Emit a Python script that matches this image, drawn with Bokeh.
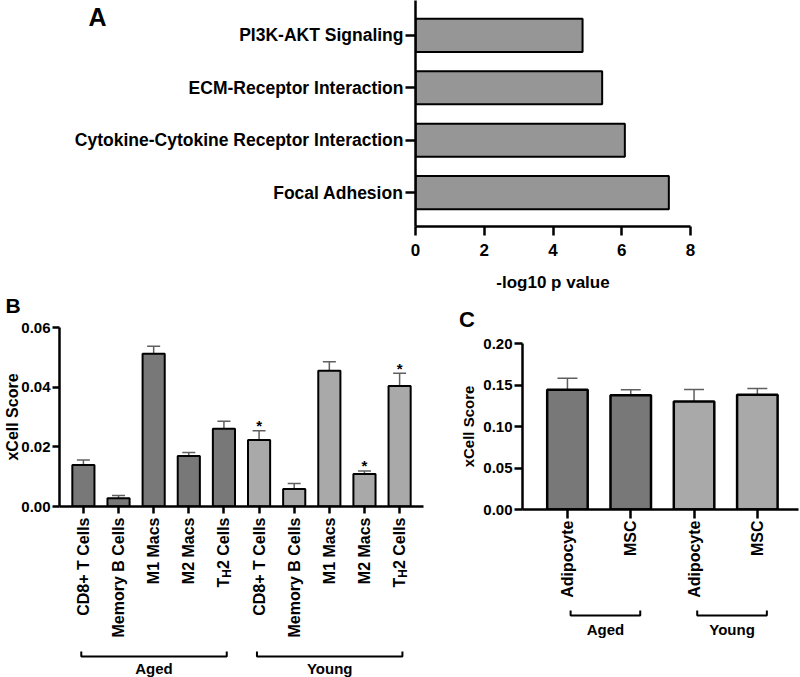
import math
from bokeh.plotting import figure
from bokeh.models import (Range1d, FixedTicker, Whisker, TeeHead, ColumnDataSource,
                          NumeralTickFormatter)
from bokeh.layouts import column, row
from bokeh.embed import file_html
from bokeh.resources import INLINE
from bokeh.core.properties import value

FONT = "Liberation Sans"

# ---------------- data ----------------
# Panel A (bottom to top)
pathways = ["Focal Adhesion", "Cytokine-Cytokine Receptor Interaction",
            "ECM-Receptor Interaction", "PI3K-AKT Signaling"]
neg_log10_p = [7.37, 6.09, 5.43, 4.86]
a_ticks = [0, 2, 4, 6, 8]

# Panel B
b_cells = ["CD8+ T Cells", "Memory B Cells", "M1 Macs", "M2 Macs", "T_H2 Cells"]
b_groups = ["Aged", "Young"]
b_aged = [0.0139, 0.0028, 0.0512, 0.0169, 0.0261]
b_aged_sem = [0.0017, 0.0009, 0.0025, 0.0012, 0.0025]
b_young = [0.0223, 0.0059, 0.0455, 0.0109, 0.0404]
b_young_sem = [0.0031, 0.0018, 0.0030, 0.0010, 0.0043]
b_young_sig = [True, False, False, True, True]
b_yticks = [0.00, 0.02, 0.04, 0.06]

# Panel C
c_cells = ["Adipocyte", "MSC"]
c_groups = ["Aged", "Young"]
c_aged = [0.1442, 0.1377]
c_aged_sem = [0.0140, 0.0065]
c_young = [0.1301, 0.1382]
c_young_sem = [0.0145, 0.0076]
c_yticks = [0.00, 0.05, 0.10, 0.15, 0.20]

GROUP_COLORS = {"Aged": "#787878", "Young": "#a9a9a9"}
ERR_COLOR = "#5f5f5f"

# approximate bold Helvetica/Arial advance widths (em)
CW = {' ': .278, '2': .556, 'C': .722, 'e': .556, 'l': .278, 's': .556, 'H': .722, 'T': .611}


def text_w(s, fs):
    return sum(CW.get(c, .6) for c in s) * fs


def style(p, tick_fs, label_fs):
    p.xgrid.grid_line_color = None
    p.ygrid.grid_line_color = None
    p.outline_line_color = None
    for ax in p.axis:
        ax.axis_line_color = "black"
        ax.axis_line_width = 2.5
        ax.major_tick_line_color = "black"
        ax.major_tick_line_width = 2.5
        ax.major_tick_in = 0
        ax.minor_tick_line_color = None
        ax.major_label_text_font = FONT
        ax.major_label_text_font_style = "bold"
        ax.major_label_text_font_size = tick_fs
        ax.major_label_text_color = "black"
        ax.axis_label_text_font = FONT
        ax.axis_label_text_font_style = "bold"
        ax.axis_label_text_font_size = label_fs
        ax.axis_label_text_color = "black"


def panel_letter(p, text, frame, cx, cy, size):
    """frame = (x0, x1, y0, y1, left_px, right_px, top_px, bottom_px) in canvas px."""
    x0, x1, y0, y1, L, R, T, B = frame
    x = x0 + (cx - L) / (R - L) * (x1 - x0)
    y = y0 + (B - cy) / (B - T) * (y1 - y0)
    p.text(x=[x], y=[y], text=[text], text_align="center", text_baseline="middle",
           text_font=value(FONT), text_font_style="bold", text_font_size=size,
           text_color="black", level="overlay")


# ---------------- Panel A ----------------
A_W, A_H = 800, 294
A_L, A_R, A_T, A_B = 415, 110, 0, 67
a_idx = list(range(len(pathways)))
pa = figure(width=A_W, height=A_H, x_range=Range1d(0, 8), y_range=Range1d(-0.646, 3.665),
            output_backend="svg", toolbar_location=None,
            min_border_left=A_L, min_border_right=A_R, min_border_top=A_T,
            min_border_bottom=A_B)
pa.hbar(y=a_idx, left=0, right=neg_log10_p, height=0.63, fill_color="#969696",
        line_color="black", line_width=2)
style(pa, "17px", "17px")
pa.yaxis.major_label_text_font_size = "17.5px"
pa.xaxis.ticker = FixedTicker(ticks=a_ticks)
pa.xaxis.major_tick_out = 9
pa.xaxis.major_label_standoff = 8
pa.xaxis.axis_label = "-log10 p value"
pa.xaxis.axis_label_standoff = 14
pa.yaxis.ticker = FixedTicker(ticks=a_idx)
pa.yaxis.major_label_overrides = {i: n for i, n in zip(a_idx, pathways)}
pa.yaxis.major_tick_out = 10
pa.yaxis.major_label_standoff = 2
panel_letter(pa, "A", (0, 8, -0.646, 3.665, A_L, A_W - A_R, A_T, A_H - A_B), 97, 17, "25px")


# ---------------- helper for grouped bar panels ----------------
def grouped_panel(p, cells, groups, vals_by_group, sem_by_group, bar_w, bar_lw, cap,
                  frame_h, yspan, label_fs, tick_out, standoff,
                  br_off, br_tick, grp_off, br_pad):
    n = len(cells)
    idx, vals, sems, cols, labels = [], [], [], [], []
    for g, (gname, gv, gs) in enumerate(zip(groups, vals_by_group, sem_by_group)):
        for k in range(n):
            idx.append(g * n + k)
            vals.append(gv[k])
            sems.append(gs[k])
            cols.append(GROUP_COLORS[gname])
            labels.append(cells[k])
    src = ColumnDataSource(dict(x=idx, top=vals, upper=[v + s for v, s in zip(vals, sems)],
                                color=cols))
    p.add_layout(Whisker(source=src, base="x", upper="upper", lower="top",
                         dimension="height", line_color=ERR_COLOR, line_width=1.5,
                         lower_head=None,
                         upper_head=TeeHead(size=cap, line_color=ERR_COLOR, line_width=1.5)))
    p.vbar(x="x", top="top", bottom=0, width=bar_w, fill_color="color",
           line_color="black", line_width=bar_lw, source=src)
    p.xaxis.ticker = FixedTicker(ticks=idx)
    p.xaxis.major_label_overrides = {i: "" for i in idx}
    p.xaxis.major_tick_out = tick_out
    # category labels, rotated, reading bottom to top (T_H2 -> subscript H)
    fs = float(label_fs.replace("px", ""))
    sfs = round(fs * 0.72)
    y0 = tick_out + standoff
    common = dict(angle=math.pi / 2, text_align="right", text_baseline="middle",
                  text_font=value(FONT), text_font_style="bold", text_color="black",
                  level="overlay")
    for i, lab in zip(idx, labels):
        if "_" in lab:
            base, tail = lab.split("_", 1)
            sub, rest = tail[0], tail[1:]
            p.text(x=[i], y=[0], text=[rest], y_offset=y0, text_font_size=label_fs, **common)
            p.text(x=[i], y=[0], text=[sub], y_offset=y0 + text_w(rest, fs), x_offset=3,
                   text_font_size=f"{sfs}px", **common)
            p.text(x=[i], y=[0], text=[base],
                   y_offset=y0 + text_w(rest, fs) + text_w(sub, sfs),
                   text_font_size=label_fs, **common)
        else:
            p.text(x=[i], y=[0], text=[lab], y_offset=y0, text_font_size=label_fs, **common)
    # group brackets + group names
    per_px = yspan / frame_h
    for g, gname in enumerate(groups):
        x0 = g * n - br_pad[0]
        x1 = (g + 1) * n - 1 + br_pad[1]
        yb = -br_off * per_px
        yt = -(br_off - br_tick) * per_px
        p.multi_line(xs=[[x0, x0, x1, x1]], ys=[[yt, yb, yb, yt]], line_color="black",
                     line_width=2, level="overlay")
        p.text(x=[(x0 + x1) / 2], y=[0], text=[gname], y_offset=grp_off,
               text_align="center", text_baseline="middle", text_font=value(FONT),
               text_font_style="bold", text_font_size="15px", text_color="black",
               level="overlay")
    return idx


# ---------------- Panel B ----------------
B_W, B_H = 456, 383
B_L, B_R, B_T, B_B = 59, 33, 33, 171
b_xr = (-0.68, 9.68)
pb = figure(width=B_W, height=B_H, x_range=Range1d(*b_xr), y_range=Range1d(0, 0.06),
            output_backend="svg", toolbar_location=None, frame_align=False,
            min_border_left=B_L, min_border_right=B_R, min_border_top=B_T,
            min_border_bottom=B_B)
style(pb, "15px", "16px")
b_idx = grouped_panel(pb, b_cells, b_groups, [b_aged, b_young], [b_aged_sem, b_young_sem],
                      bar_w=0.63, bar_lw=2, cap=13, frame_h=B_H - B_T - B_B, yspan=0.06,
                      label_fs="16px", tick_out=7, standoff=4,
                      br_off=150, br_tick=5, grp_off=162, br_pad=(0.06, 0.08))
pb.yaxis.ticker = FixedTicker(ticks=b_yticks)
pb.yaxis.formatter = NumeralTickFormatter(format="0.00")
pb.yaxis.axis_label = "xCell Score"
pb.yaxis.major_tick_out = 7
pb.yaxis.major_label_standoff = 2
pb.yaxis.axis_label_standoff = -3
# significance stars (young vs aged)
n_b = len(b_cells)
sx = [b_idx[n_b + k] for k, s in enumerate(b_young_sig) if s]
sy = [b_young[k] + b_young_sem[k] for k, s in enumerate(b_young_sig) if s]
pb.text(x=sx, y=sy, text=["*"] * len(sx), y_offset=-5, text_align="center",
        text_baseline="middle", text_font=value(FONT), text_font_style="bold",
        text_font_size="15px", text_color="black")
panel_letter(pb, "B", (b_xr[0], b_xr[1], 0, 0.06, B_L, B_W - B_R, B_T, B_H - B_B),
             12.5, 305 - 294, "21px")

# ---------------- Panel C ----------------
C_W, C_H = 344, 383
C_L, C_R, C_T, C_B = 66, 2, 49, 168
c_xr = (-0.71, 3.65)
pc = figure(width=C_W, height=C_H, x_range=Range1d(*c_xr), y_range=Range1d(0, 0.2),
            output_backend="svg", toolbar_location=None, frame_align=False,
            min_border_left=C_L, min_border_right=C_R, min_border_top=C_T,
            min_border_bottom=C_B)
style(pc, "15px", "15px")
grouped_panel(pc, c_cells, c_groups, [c_aged, c_young], [c_aged_sem, c_young_sem],
              bar_w=0.64, bar_lw=2.5, cap=20, frame_h=C_H - C_T - C_B, yspan=0.2,
              label_fs="16px", tick_out=9, standoff=2,
              br_off=106, br_tick=5, grp_off=120, br_pad=(-0.05, 0.15))
pc.yaxis.ticker = FixedTicker(ticks=c_yticks)
pc.yaxis.formatter = NumeralTickFormatter(format="0.00")
pc.yaxis.axis_label = "xCell Score"
pc.yaxis.major_tick_out = 8
pc.yaxis.major_label_standoff = 2
pc.yaxis.axis_label_standoff = 3
panel_letter(pc, "C", (c_xr[0], c_xr[1], 0, 0.2, C_L, C_W - C_R, C_T, C_H - C_B),
             466.5 - 456, 318.5 - 294, "22px")

layout = column(pa, row(pb, pc))
open("out.html", "w").write(file_html(layout, INLINE))
